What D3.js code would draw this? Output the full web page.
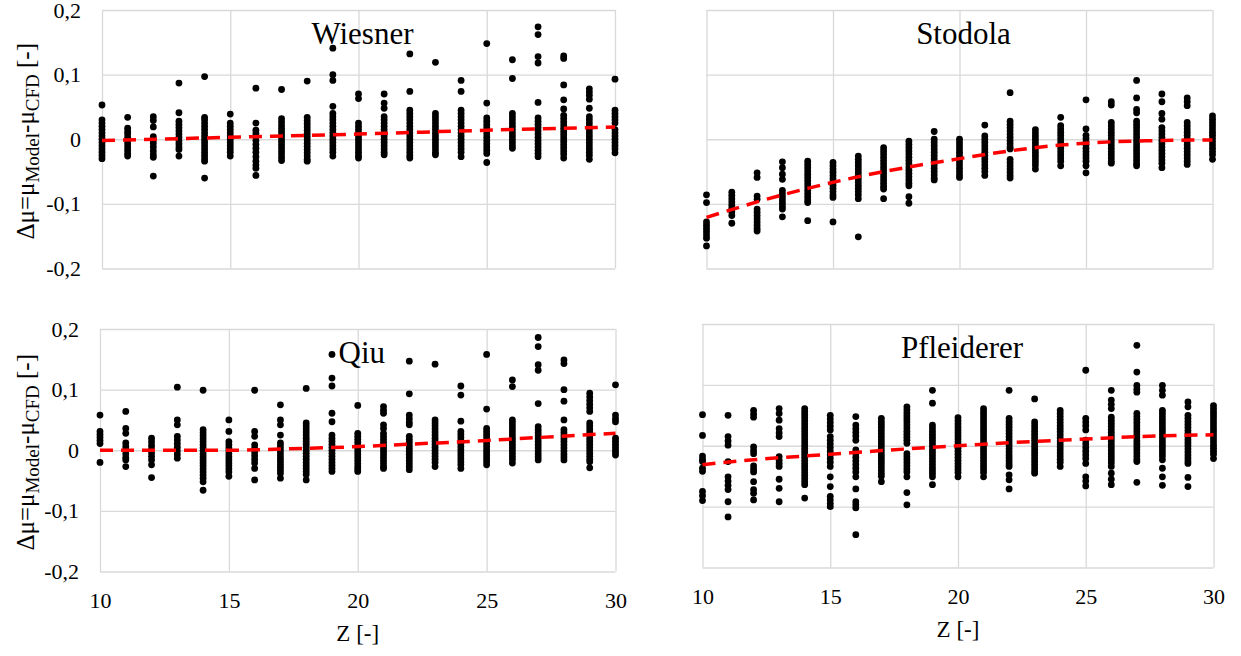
<!DOCTYPE html>
<html><head><meta charset="utf-8">
<script src="https://cdn.jsdelivr.net/npm/d3@7"></script>
<style>
html,body{margin:0;padding:0;background:#fff;}
svg text{font-family:"Liberation Serif","Times New Roman",serif !important;fill:#000;}
</style></head>
<body>
<script>
const zCategories = [10,11,12,13,14,15,16,17,18,19,20,21,22,23,24,25,26,27,28,29,30];
const zTicks = [10,15,20,25,30];
const yTicks = [-0.2,-0.1,0,0.1,0.2];
const yTickLabels = ["-0,2","-0,1","0","0,1","0,2"];
const panelTitles = ["Wiesner","Stodola","Qiu","Pfleiderer"];

const wiesner = [
[0.053,0.03,0.025,0.02,0.015,0.01,0.005,0,-0.005,-0.01,-0.015,-0.02,-0.025,-0.03],
[0.034,0.017,0.012,0.008,0.003,-0.002,-0.007,-0.012,-0.017,-0.022,-0.026],
[0.035,0.029,0.019,0.004,-0.001,-0.006,-0.012,-0.018,-0.024,-0.028,-0.057],
[0.087,0.041,0.028,0.023,0.018,0.013,0.008,0.003,-0.002,-0.007,-0.012,-0.016,-0.026],
[0.097,0.034,0.03,0.025,0.02,0.015,0.01,0.005,0,-0.005,-0.01,-0.015,-0.02,-0.025,-0.03,-0.034,-0.06],
[0.039,0.025,0.02,0.015,0.01,0.005,0,-0.005,-0.01,-0.015,-0.02,-0.026],
[0.079,0.025,0.014,0.009,0.004,-0.002,-0.008,-0.014,-0.02,-0.027,-0.034,-0.04,-0.045,-0.056],
[0.077,0.032,0.027,0.022,0.017,0.012,0.007,0.002,-0.003,-0.008,-0.013,-0.018,-0.023,-0.028,-0.033],
[0.09,0.034,0.029,0.024,0.019,0.014,0.009,0.004,-0.001,-0.006,-0.011,-0.016,-0.021,-0.026,-0.031,-0.034],
[0.141,0.1,0.091,0.051,0.04,0.035,0.03,0.025,0.02,0.015,0.01,0.005,0,-0.005,-0.01,-0.015,-0.02,-0.026],
[0.07,0.063,0.025,0.02,0.015,0.01,0.005,0,-0.005,-0.01,-0.015,-0.02,-0.025,-0.029],
[0.07,0.056,0.048,0.035,0.03,0.025,0.02,0.015,0.01,0.005,0,-0.005,-0.01,-0.015,-0.02,-0.024],
[0.132,0.074,0.045,0.04,0.035,0.03,0.025,0.02,0.015,0.01,0.005,0,-0.005,-0.01,-0.015,-0.02,-0.025,-0.029],
[0.119,0.04,0.035,0.03,0.025,0.02,0.015,0.01,0.005,0,-0.005,-0.01,-0.015,-0.02,-0.024],
[0.091,0.074,0.045,0.04,0.035,0.03,0.025,0.02,0.015,0.01,0.005,0,-0.005,-0.01,-0.015,-0.02,-0.027],
[0.148,0.056,0.033,0.028,0.023,0.018,0.013,0.008,0.003,-0.002,-0.007,-0.012,-0.017,-0.022,-0.036],
[0.123,0.094,0.04,0.035,0.03,0.025,0.02,0.015,0.01,0.005,0,-0.005,-0.01,-0.014],
[0.174,0.162,0.128,0.118,0.057,0.033,0.028,0.023,0.018,0.013,0.008,0.003,-0.002,-0.007,-0.012,-0.017,-0.022,-0.027],
[0.129,0.125,0.084,0.061,0.047,0.037,0.032,0.027,0.022,0.017,0.012,0.007,0.002,-0.003,-0.008,-0.013,-0.018,-0.023,-0.029],
[0.078,0.073,0.068,0.062,0.048,0.035,0.03,0.025,0.02,0.015,0.01,0.005,0,-0.005,-0.01,-0.015,-0.02,-0.025,-0.031],
[0.093,0.045,0.04,0.035,0.03,0.025,0.015,0.01,0.005,0,-0.005,-0.01,-0.015,-0.021]
];

const stodola = [
[-0.086,-0.098,-0.128,-0.133,-0.138,-0.143,-0.148,-0.153,-0.165],
[-0.082,-0.087,-0.092,-0.097,-0.102,-0.107,-0.112,-0.118,-0.13],
[-0.052,-0.059,-0.088,-0.093,-0.108,-0.113,-0.118,-0.123,-0.128,-0.133,-0.138,-0.142],
[-0.035,-0.044,-0.054,-0.062,-0.079,-0.084,-0.089,-0.094,-0.099,-0.104,-0.108,-0.12],
[-0.034,-0.039,-0.044,-0.049,-0.054,-0.059,-0.064,-0.069,-0.074,-0.079,-0.084,-0.089,-0.094,-0.098,-0.126],
[-0.036,-0.041,-0.046,-0.051,-0.056,-0.061,-0.066,-0.071,-0.076,-0.081,-0.086,-0.09,-0.128],
[-0.026,-0.031,-0.036,-0.041,-0.046,-0.051,-0.056,-0.061,-0.066,-0.071,-0.076,-0.081,-0.086,-0.092,-0.151],
[-0.013,-0.018,-0.023,-0.028,-0.033,-0.038,-0.043,-0.048,-0.053,-0.058,-0.063,-0.068,-0.073,-0.077,-0.092],
[-0.003,-0.008,-0.013,-0.018,-0.023,-0.028,-0.033,-0.038,-0.043,-0.048,-0.053,-0.058,-0.063,-0.068,-0.072,-0.089,-0.099],
[0.012,0,-0.005,-0.01,-0.015,-0.02,-0.025,-0.03,-0.035,-0.04,-0.045,-0.05,-0.055,-0.06,-0.063],
[0,-0.005,-0.01,-0.015,-0.02,-0.025,-0.03,-0.035,-0.04,-0.045,-0.05,-0.055,-0.059],
[0.022,0.005,0,-0.005,-0.01,-0.015,-0.02,-0.025,-0.03,-0.035,-0.04,-0.045,-0.05,-0.056],
[0.072,0.028,0.023,0.018,0.013,0.008,0.003,-0.002,-0.007,-0.012,-0.015,-0.031,-0.036,-0.041,-0.046,-0.051,-0.056,-0.06],
[0.015,0.01,0.005,0,-0.005,-0.01,-0.015,-0.02,-0.025,-0.03,-0.035,-0.04,-0.046],
[0.034,0.021,0.016,0.011,0.006,0.001,-0.004,-0.009,-0.014,-0.019,-0.024,-0.029,-0.034,-0.041],
[0.061,0.016,0.006,0.001,-0.004,-0.009,-0.014,-0.019,-0.024,-0.029,-0.034,-0.041,-0.052],
[0.058,0.053,0.026,0.021,0.016,0.011,0.006,0.001,-0.004,-0.009,-0.014,-0.019,-0.024,-0.029,-0.034,-0.037],
[0.091,0.064,0.046,0.041,0.028,0.023,0.018,0.013,0.008,0.003,-0.002,-0.007,-0.012,-0.017,-0.022,-0.027,-0.032,-0.037,-0.041],
[0.07,0.058,0.04,0.031,0.018,0.013,0.008,0.003,-0.002,-0.007,-0.012,-0.017,-0.022,-0.027,-0.032,-0.037,-0.044],
[0.064,0.058,0.052,0.026,0.021,0.016,0.011,0.006,0.001,-0.004,-0.009,-0.014,-0.019,-0.024,-0.029,-0.034,-0.039],
[0.036,0.031,0.026,0.021,0.016,0.011,0.006,0.001,-0.004,-0.009,-0.014,-0.019,-0.024,-0.031]
];

const qiu = [
[0.058,0.031,0.026,0.021,0.016,0.011,-0.02],
[0.064,0.036,0.028,0.012,0.006,0,-0.006,-0.012,-0.016,-0.027],
[0.02,0.014,0.008,0.002,-0.004,-0.01,-0.016,-0.024,-0.045],
[0.104,0.05,0.042,0.023,0.017,0.011,0.005,-0.001,-0.007,-0.013],
[0.099,0.034,0.029,0.024,0.019,0.014,0.009,0.004,-0.001,-0.006,-0.011,-0.016,-0.021,-0.026,-0.031,-0.036,-0.041,-0.046,-0.052,-0.066],
[0.05,0.031,0.014,0.009,0.004,-0.001,-0.006,-0.011,-0.016,-0.021,-0.026,-0.031,-0.036,-0.043],
[0.099,0.031,0.023,0.009,0.003,-0.003,-0.009,-0.015,-0.021,-0.03,-0.049],
[0.075,0.05,0.042,0.025,0.012,0.007,0.002,-0.003,-0.008,-0.013,-0.018,-0.023,-0.028,-0.033,-0.038,-0.046],
[0.102,0.045,0.04,0.035,0.03,0.025,0.02,0.015,0.01,0.005,0,-0.005,-0.01,-0.015,-0.02,-0.025,-0.03,-0.035,-0.04,-0.049],
[0.158,0.119,0.106,0.061,0.047,0.025,0.02,0.015,0.01,0.005,0,-0.005,-0.01,-0.015,-0.02,-0.025,-0.03,-0.035],
[0.074,0.028,0.023,0.018,0.013,0.008,0.003,-0.002,-0.007,-0.012,-0.017,-0.022,-0.027,-0.031,-0.035],
[0.072,0.066,0.061,0.042,0.036,0.028,0.023,0.018,0.013,0.008,0.003,-0.002,-0.007,-0.012,-0.017,-0.022,-0.027,-0.03],
[0.147,0.093,0.058,0.052,0.046,0.042,0.023,0.018,0.013,0.008,0.003,-0.002,-0.007,-0.012,-0.017,-0.022,-0.027,-0.032],
[0.142,0.05,0.045,0.04,0.035,0.03,0.025,0.02,0.015,0.01,0.005,0,-0.005,-0.01,-0.015,-0.02,-0.027],
[0.106,0.091,0.048,0.031,0.026,0.021,0.016,0.011,0.006,0.001,-0.004,-0.009,-0.014,-0.019,-0.024,-0.03],
[0.158,0.068,0.036,0.031,0.026,0.021,0.016,0.011,0.006,0.001,-0.004,-0.009,-0.014,-0.019,-0.024],
[0.116,0.105,0.05,0.045,0.04,0.035,0.03,0.025,0.02,0.015,0.01,0.005,0,-0.005,-0.01,-0.015,-0.021],
[0.186,0.171,0.141,0.132,0.077,0.039,0.034,0.029,0.024,0.019,0.014,0.009,0.004,-0.001,-0.006,-0.011,-0.016],
[0.149,0.143,0.1,0.081,0.05,0.034,0.029,0.024,0.019,0.014,0.009,0.004,-0.001,-0.006,-0.011,-0.016],
[0.094,0.088,0.082,0.076,0.07,0.064,0.045,0.04,0.035,0.03,0.025,0.02,0.015,0.01,0.005,0,-0.005,-0.01,-0.015,-0.019,-0.029],
[0.108,0.058,0.052,0.047,0.02,0.015,0.01,0.005,0,-0.004,-0.008]
];

const pfleiderer = [
[0.051,0.017,-0.017,-0.022,-0.026,-0.037,-0.042,-0.075,-0.082,-0.09],
[0.05,0.015,0.008,0.001,-0.026,-0.051,-0.058,-0.065,-0.072,-0.092,-0.117],
[0.058,0.052,0.047,-0.002,-0.008,-0.013,-0.033,-0.038,-0.043,-0.059,-0.072,-0.078,-0.089],
[0.061,0.053,0.042,0.028,0.021,0.015,-0.018,-0.024,-0.029,-0.034,-0.055,-0.07,-0.092],
[0.061,0.056,0.051,0.046,0.041,0.036,0.031,0.026,0.021,0.016,0.011,0.006,0.001,-0.004,-0.009,-0.014,-0.019,-0.024,-0.029,-0.034,-0.039,-0.044,-0.049,-0.054,-0.059,-0.064,-0.086],
[0.05,0.044,0.038,0.032,0.026,0.015,0.009,0.003,-0.003,-0.009,-0.015,-0.021,-0.027,-0.034,-0.051,-0.067,-0.083,-0.089,-0.095,-0.1],
[0.048,0.034,0.028,0.022,0.016,0.009,-0.007,-0.013,-0.019,-0.025,-0.031,-0.037,-0.043,-0.051,-0.071,-0.092,-0.097,-0.102,-0.146],
[0.045,0.04,0.035,0.03,0.025,0.02,0.015,0.01,0.005,0,-0.005,-0.01,-0.015,-0.02,-0.025,-0.03,-0.035,-0.04,-0.045,-0.05,-0.059],
[0.064,0.059,0.054,0.049,0.044,0.039,0.034,0.029,0.024,0.019,0.014,0.009,0.004,-0.013,-0.018,-0.023,-0.028,-0.033,-0.038,-0.043,-0.051,-0.077,-0.097],
[0.091,0.07,0.034,0.029,0.024,0.019,0.014,0.009,0.004,-0.001,-0.006,-0.011,-0.016,-0.021,-0.026,-0.031,-0.036,-0.041,-0.046,-0.051,-0.064],
[0.046,0.041,0.036,0.031,0.026,0.021,0.016,0.011,0.006,0.001,-0.004,-0.009,-0.014,-0.019,-0.024,-0.029,-0.034,-0.039,-0.044,-0.051],
[0.061,0.056,0.051,0.046,0.041,0.036,0.031,0.026,0.021,0.016,0.011,0.006,0.001,-0.004,-0.009,-0.014,-0.019,-0.024,-0.029,-0.034,-0.039,-0.044,-0.051],
[0.091,0.045,0.04,0.035,0.03,0.025,0.02,0.015,0.01,0.005,0,-0.005,-0.01,-0.015,-0.02,-0.025,-0.03,-0.034,-0.048,-0.056,-0.071],
[0.077,0.039,0.034,0.029,0.024,0.019,0.014,0.009,0.004,-0.001,-0.006,-0.011,-0.016,-0.021,-0.026,-0.031,-0.036,-0.041,-0.045],
[0.058,0.053,0.048,0.043,0.038,0.033,0.028,0.023,0.018,0.013,0.008,0.003,-0.002,-0.007,-0.012,-0.017,-0.022,-0.027,-0.034],
[0.124,0.045,0.039,0.033,0.026,0.009,0.003,-0.003,-0.009,-0.015,-0.021,-0.029,-0.051,-0.058,-0.066],
[0.091,0.075,0.068,0.061,0.047,0.042,0.037,0.032,0.027,0.022,0.017,0.012,0.007,0.002,-0.003,-0.008,-0.013,-0.018,-0.023,-0.028,-0.034,-0.045,-0.055,-0.064],
[0.165,0.121,0.099,0.093,0.088,0.053,0.048,0.043,0.038,0.033,0.028,0.023,0.018,0.013,0.008,0.003,-0.002,-0.007,-0.012,-0.017,-0.022,-0.026,-0.06],
[0.099,0.091,0.083,0.058,0.053,0.048,0.043,0.038,0.033,0.028,0.023,0.018,0.013,0.008,0.003,-0.002,-0.007,-0.012,-0.017,-0.023,-0.037,-0.051,-0.065],
[0.072,0.064,0.05,0.045,0.04,0.035,0.03,0.025,0.02,0.015,0.01,0.005,0,-0.005,-0.01,-0.015,-0.02,-0.025,-0.029,-0.052,-0.067],
[0.066,0.061,0.056,0.051,0.046,0.041,0.036,0.031,0.026,0.021,0.016,0.011,0.006,0.001,-0.004,-0.009,-0.014,-0.021]
];

const wiesnerTrendZ = [10,15,20,25,30];
const wiesnerTrend = [-0.002,0.003,0.008,0.014,0.019];
const stodolaTrendZ = [10,12,14,16,18,20,22,24,26,28,30];
const stodolaTrend = [-0.121,-0.097,-0.076,-0.058,-0.043,-0.03,-0.018,-0.009,-0.004,-0.002,-0.001];
const qiuTrendZ = [10,12,15,17,20,22,25,27,30];
const qiuTrend = [0,0,0,0.002,0.006,0.01,0.016,0.021,0.028];
const pfleidererTrendZ = [10,12,15,17,20,22,25,27,30];
const pfleidererTrend = [-0.031,-0.023,-0.014,-0.008,0,0.005,0.011,0.015,0.018];

const FONT = "'Liberation Serif','Times New Roman',serif";

const panels = [
  {title:panelTitles[0], data:wiesner, tz:wiesnerTrendZ, tv:wiesnerTrend, l:102, r:615, t:10, b:268.5, xLab:false, yLab:true},
  {title:panelTitles[1], data:stodola, tz:stodolaTrendZ, tv:stodolaTrend, l:706.5, r:1212.5, t:10, b:268.5, xLab:false, yLab:false},
  {title:panelTitles[2], data:qiu, tz:qiuTrendZ, tv:qiuTrend, l:100, r:615.5, t:329, b:571.5, xLab:true, yLab:true},
  {title:panelTitles[3], data:pfleiderer, tz:pfleidererTrendZ, tv:pfleidererTrend, l:702.5, r:1213.5, t:324, b:567.5, xLab:true, yLab:false}
];

const svg = d3.select("body").append("svg").attr("width",1241).attr("height",656)
  .attr("font-family",FONT);
const grid = "#d9d9d9";

panels.forEach(p => {
  const x = d3.scaleLinear().domain([10,30]).range([p.l,p.r]);
  const y = d3.scaleLinear().domain([-0.2,0.2]).range([p.b,p.t]);
  const g = svg.append("g");

  g.append("g").attr("transform",`translate(0,${p.b})`)
    .call(d3.axisBottom(x).tickValues(zTicks).tickSize(-(p.b-p.t)).tickPadding(21)
      .tickFormat(d => p.xLab ? String(d) : ""))
    .attr("font-family",FONT).attr("font-size",22)
    .call(a => a.select(".domain").remove())
    .call(a => a.selectAll("line").attr("stroke",grid).attr("stroke-width",1.3))
    .call(a => a.selectAll("text").attr("fill","#000").attr("font-family",FONT));

  g.append("g").attr("transform",`translate(${p.l},0)`)
    .call(d3.axisLeft(y).tickValues(yTicks).tickSize(-(p.r-p.l)).tickPadding(21)
      .tickFormat((d,i) => p.yLab ? yTickLabels[i] : ""))
    .attr("font-family",FONT).attr("font-size",22)
    .call(a => a.select(".domain").remove())
    .call(a => a.selectAll("line").attr("stroke",grid).attr("stroke-width",1.3))
    .call(a => a.selectAll("text").attr("fill","#000").attr("font-family",FONT));

  g.append("text").attr("x",(p.l+p.r)/2+4).attr("y",p.t+34)
    .attr("text-anchor","middle").attr("font-size",31).attr("font-family",FONT).text(p.title);

  const pts = p.data.flatMap((vals,i) => vals.map(v => ({z:zCategories[i], v})));
  g.append("g").selectAll("circle").data(pts).join("circle")
    .attr("cx",d => x(d.z)).attr("cy",d => y(d.v)).attr("r",3.4).attr("fill","#000");

  const line = d3.line().x(d => x(d[0])).y(d => y(d[1])).curve(d3.curveMonotoneX);
  g.append("path").datum(p.tz.map((z,i) => [z,p.tv[i]]))
    .attr("d",line).attr("fill","none").attr("stroke","#ff0000")
    .attr("stroke-width",3.5).attr("stroke-dasharray","13,8");

  if (p.xLab) {
    g.append("text").attr("x",(p.l+p.r)/2).attr("y",p.b+69)
      .attr("text-anchor","middle").attr("font-size",23).attr("font-family",FONT).text("Z [-]");
  }
  if (p.yLab) {
    const cy = (p.t+p.b)/2 + 2;
    const t = g.append("text").attr("transform",`translate(34,${cy}) rotate(-90)`)
      .attr("text-anchor","middle").attr("font-size",25).attr("font-family",FONT);
    t.append("tspan").text("Δμ=μ");
    t.append("tspan").attr("font-size",19).attr("dy",5).text("Model");
    t.append("tspan").attr("dy",-5).text("-μ");
    t.append("tspan").attr("font-size",19).attr("dy",5).text("CFD");
    t.append("tspan").attr("dy",-5).text(" [-]");
  }
});
</script>
</body></html>
